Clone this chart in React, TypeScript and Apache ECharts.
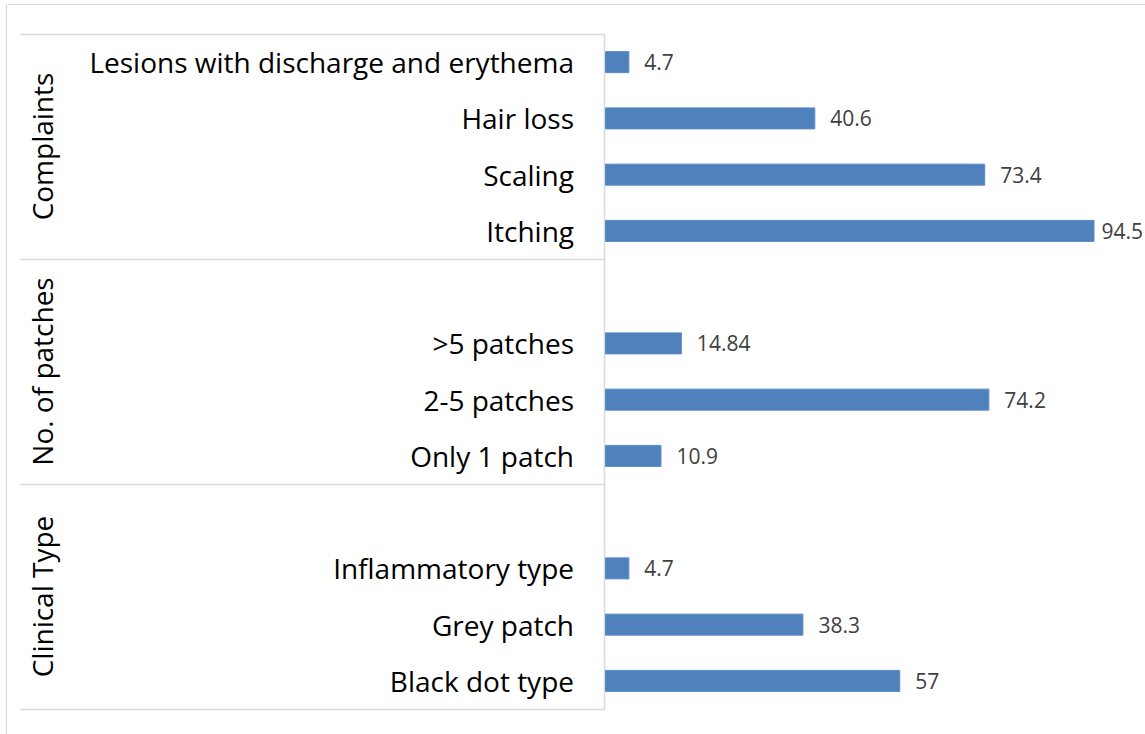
import React, { useEffect, useRef } from "react";
import * as echarts from "echarts";

const categories = [
  "Lesions with discharge and erythema",
  "Hair loss",
  "Scaling",
  "Itching",
  "",
  ">5 patches",
  "2-5 patches",
  "Only 1 patch",
  "",
  "Inflammatory type",
  "Grey patch",
  "Black dot type",
];
const values: (number | null)[] = [4.7, 40.6, 73.4, 94.5, null, 14.84, 74.2, 10.9, null, 4.7, 38.3, 57];
const groupNames = ["Complaints", "No. of patches", "Clinical Type"];
const groupSizes = [4, 4, 4];

const W = 1145;
const H = 734;
const GRID_LEFT = 605;
const GRID_TOP = 34;
const GRID_BOTTOM_Y = 709;
const TABLE_LEFT = 20;
const LINE = "#D9D9D9";
const FONT = "'Open Sans', 'Noto Sans', sans-serif";

export default function App() {
  const ref = useRef<HTMLDivElement>(null);
  useEffect(() => {
    document.body.style.margin = "0";
    if (!ref.current) return;
    const chart = echarts.init(ref.current, undefined, { renderer: "svg" });
    const slot = (GRID_BOTTOM_Y - GRID_TOP) / categories.length;
    const graphics: any[] = [
      {
        type: "rect",
        shape: { x: 6.5, y: 4.5, width: 1300, height: 900 },
        style: { fill: "none", stroke: LINE, lineWidth: 1 },
        silent: true,
      },
      {
        type: "line",
        shape: { x1: GRID_LEFT - 0.5, y1: GRID_TOP, x2: GRID_LEFT - 0.5, y2: GRID_BOTTOM_Y },
        style: { stroke: LINE, lineWidth: 1.5 },
        silent: true,
      },
    ];
    let acc = 0;
    const bounds = [GRID_TOP];
    groupSizes.forEach((n, i) => {
      const y0 = GRID_TOP + acc * slot;
      acc += n;
      const y1 = GRID_TOP + acc * slot;
      bounds.push(y1);
      graphics.push({
        type: "text",
        x: 42,
        y: (y0 + y1) / 2,
        rotation: Math.PI / 2,
        style: {
          text: groupNames[i],
          fontSize: 28,
          fontFamily: FONT,
          fill: "#000000",
          align: "center",
          verticalAlign: "middle",
        },
        silent: true,
      });
    });
    bounds.forEach((y) => {
      graphics.push({
        type: "line",
        shape: { x1: TABLE_LEFT, y1: Math.round(y) + 0.5, x2: GRID_LEFT, y2: Math.round(y) + 0.5 },
        style: { stroke: LINE, lineWidth: 1.5 },
        silent: true,
      });
    });

    chart.setOption({
      animation: false,
      grid: { left: GRID_LEFT, right: W - 1123, top: GRID_TOP, bottom: H - GRID_BOTTOM_Y, containLabel: false },
      xAxis: {
        type: "value",
        min: 0,
        max: 100,
        show: false,
        splitLine: { show: false },
      },
      yAxis: {
        type: "category",
        inverse: true,
        data: categories,
        axisLine: { show: false },
        axisTick: { show: false },
        axisLabel: {
          margin: 31,
          fontSize: 28,
          fontFamily: FONT,
          color: "#000000",
          interval: 0,
        },
      },
      series: [
        {
          type: "bar",
          data: values,
          barWidth: 22,
          itemStyle: { color: "#4F81BD", borderColor: "#5B8AC4", borderWidth: 1 },
          label: {
            show: true,
            position: "right",
            distance: 15,
            fontSize: 21,
            fontFamily: FONT,
            color: "#404040",
          },
          labelLayout: (p: any) => {
            const r = p.labelRect;
            if (r && r.x + r.width > W - 2) {
              return {
                x: W - 2 - r.width,
                y: r.y + r.height / 2,
                align: "left",
                verticalAlign: "middle",
              };
            }
            return {};
          },
        },
      ],
      graphic: graphics,
    });
    return () => chart.dispose();
  }, []);
  return <div ref={ref} style={{ width: W, height: H }} />;
}
